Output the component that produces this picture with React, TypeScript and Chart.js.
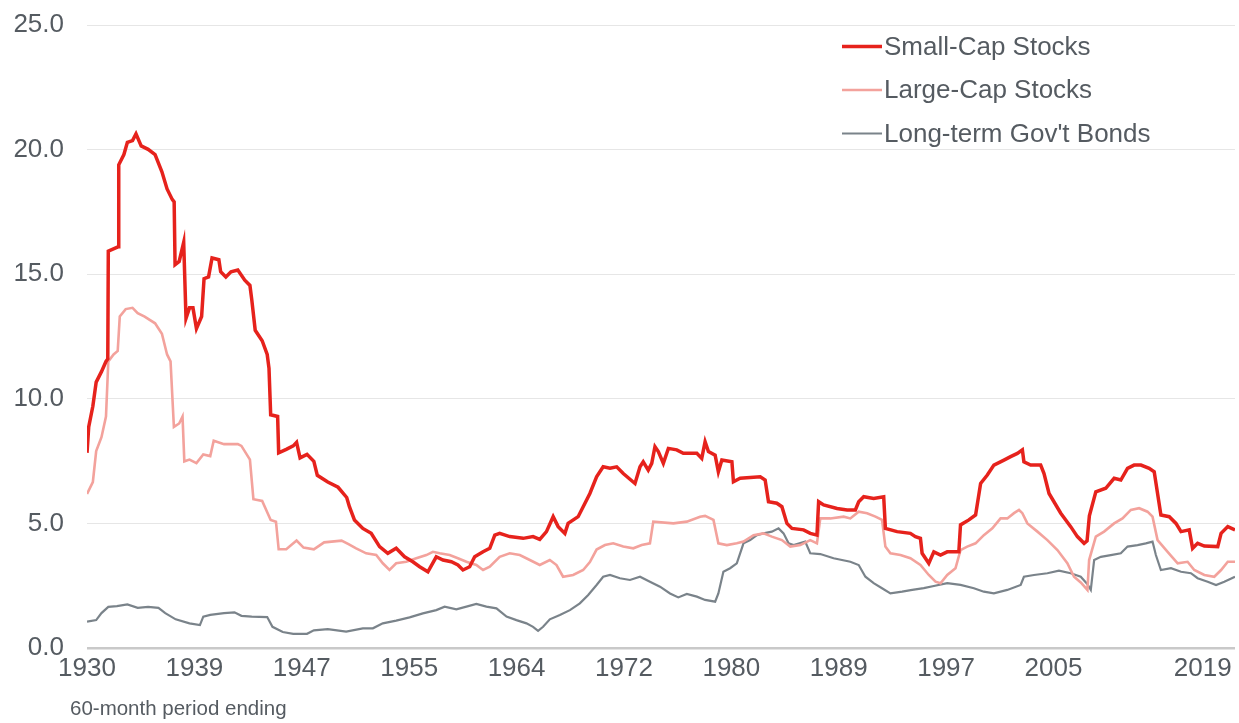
import React, { useEffect, useRef } from 'react';
import { Chart, registerables } from 'chart.js';

Chart.register(...registerables);

const seriesNames = ['Small-Cap Stocks', 'Large-Cap Stocks', "Long-term Gov't Bonds"];
const seriesColors = ['rgb(230,34,28)', 'rgb(243,162,156)', 'rgb(122,131,138)'];
const seriesWidths = [3.5, 2.6, 2.2];

// [period-ending year, ratio]
const smallCapPoints: [number, number][] = [
  [1930.92, 7.83], [1931.05, 8.87], [1931.37, 9.7], [1931.63, 10.67], [1932.04, 11.09], [1932.39, 11.5], [1932.53, 11.6], [1932.57, 15.93],
  [1933.19, 16.07], [1933.33, 16.1], [1933.38, 19.39], [1933.78, 19.8], [1934.05, 20.29], [1934.45, 20.36], [1934.72, 20.63], [1935.12, 20.15],
  [1935.66, 20.01], [1936.2, 19.8], [1936.73, 19.11], [1937.13, 18.42], [1937.53, 18.0], [1937.68, 17.9], [1937.75, 15.38], [1938.07, 15.51],
  [1938.42, 16.28], [1938.6, 13.23], [1938.87, 13.65], [1939.14, 13.65], [1939.41, 12.82], [1939.81, 13.3], [1940.0, 14.82], [1940.35, 14.89],
  [1940.62, 15.65], [1941.15, 15.58], [1941.29, 15.1], [1941.69, 14.89], [1942.09, 15.1], [1942.62, 15.17], [1943.16, 14.76], [1943.56, 14.55],
  [1943.7, 13.99], [1943.97, 12.75], [1944.51, 12.33], [1944.9, 11.78], [1945.04, 11.22], [1945.17, 9.36], [1945.71, 9.29], [1945.79, 7.83],
  [1946.38, 7.97], [1946.92, 8.11], [1947.18, 8.25], [1947.45, 7.63], [1947.99, 7.77], [1948.52, 7.49], [1948.79, 6.93], [1949.6, 6.66],
  [1950.4, 6.45], [1951.07, 6.04], [1951.28, 5.67], [1951.67, 5.14], [1952.32, 4.8], [1952.97, 4.6], [1953.62, 4.07], [1954.26, 3.8],
  [1954.91, 4.0], [1955.56, 3.66], [1956.2, 3.46], [1956.73, 3.26], [1957.37, 3.06], [1958.02, 3.66], [1958.54, 3.53], [1959.19, 3.46],
  [1959.7, 3.33], [1960.09, 3.13], [1960.61, 3.26], [1961.0, 3.66], [1961.65, 3.86], [1962.17, 4.0], [1962.56, 4.53], [1962.94, 4.6],
  [1963.72, 4.47], [1964.76, 4.4], [1965.53, 4.47], [1966.05, 4.36], [1966.57, 4.67], [1967.09, 5.27], [1967.48, 4.87], [1968.0, 4.6],
  [1968.25, 5.0], [1969.03, 5.27], [1969.42, 5.67], [1969.94, 6.2], [1970.46, 6.87], [1970.97, 7.27], [1971.5, 7.21], [1972.02, 7.27],
  [1972.53, 7.0], [1973.44, 6.6], [1973.83, 7.27], [1974.08, 7.47], [1974.47, 7.14], [1974.74, 7.41], [1974.99, 8.08], [1975.25, 7.88],
  [1975.64, 7.41], [1976.03, 8.01], [1976.68, 7.95], [1977.19, 7.81], [1978.24, 7.81], [1978.62, 7.61], [1978.88, 8.28], [1979.14, 7.88],
  [1979.66, 7.74], [1979.91, 7.07], [1980.18, 7.54], [1980.96, 7.47], [1981.08, 6.67], [1981.6, 6.81], [1983.16, 6.87], [1983.54, 6.74],
  [1983.8, 5.87], [1984.45, 5.81], [1984.84, 5.67], [1985.23, 5.0], [1985.62, 4.8], [1986.52, 4.74], [1987.04, 4.6], [1987.56, 4.53],
  [1987.69, 5.87], [1988.08, 5.74], [1989.12, 5.6], [1989.9, 5.54], [1990.54, 5.54], [1990.8, 5.87], [1991.19, 6.07], [1991.96, 6.0],
  [1992.74, 6.07], [1992.87, 4.8], [1993.78, 4.67], [1994.81, 4.6], [1995.2, 4.47], [1995.59, 4.4], [1995.72, 3.8], [1996.24, 3.4],
  [1996.63, 3.86], [1997.15, 3.73], [1997.67, 3.86], [1998.57, 3.86], [1998.7, 4.94], [1999.35, 5.14], [1999.87, 5.34], [2000.26, 6.6],
  [2000.78, 6.94], [2001.29, 7.34], [2002.07, 7.54], [2002.59, 7.68], [2003.11, 7.81], [2003.5, 7.95], [2003.62, 7.47], [2004.14, 7.34],
  [2004.92, 7.34], [2005.18, 7.0], [2005.57, 6.2], [2006.48, 5.41], [2007.25, 4.87], [2007.77, 4.47], [2008.29, 4.2], [2008.52, 4.3],
  [2008.7, 5.3], [2009.2, 6.27], [2009.97, 6.41], [2010.62, 6.81], [2011.14, 6.74], [2011.66, 7.21], [2012.17, 7.34], [2012.7, 7.34],
  [2013.34, 7.21], [2013.73, 7.07], [2014.25, 5.34], [2014.9, 5.27], [2015.42, 5.0], [2015.81, 4.67], [2016.45, 4.74], [2016.71, 4.0],
  [2017.1, 4.2], [2017.62, 4.09], [2018.66, 4.07], [2018.92, 4.6], [2019.44, 4.87], [2020.0, 4.74],
];

const largeCapPoints: [number, number][] = [
  [1930.92, 6.18], [1931.37, 6.66], [1931.63, 7.9], [1932.04, 8.46], [1932.39, 9.29], [1932.57, 11.5], [1932.98, 11.78], [1933.3, 11.92],
  [1933.46, 13.3], [1933.92, 13.6], [1934.45, 13.65], [1934.85, 13.44], [1935.39, 13.3], [1936.2, 13.03], [1936.73, 12.61], [1937.13, 11.78],
  [1937.4, 11.5], [1937.66, 8.87], [1938.07, 9.01], [1938.33, 9.29], [1938.47, 7.49], [1938.87, 7.56], [1939.41, 7.42], [1939.94, 7.77],
  [1940.48, 7.7], [1940.75, 8.32], [1941.55, 8.18], [1942.62, 8.18], [1942.9, 8.11], [1943.56, 7.56], [1943.83, 5.97], [1944.51, 5.9],
  [1945.17, 5.14], [1945.58, 5.07], [1945.79, 3.96], [1946.38, 3.96], [1947.18, 4.31], [1947.72, 4.03], [1948.52, 3.96], [1949.32, 4.24],
  [1950.67, 4.31], [1951.21, 4.17], [1951.8, 4.0], [1952.58, 3.8], [1953.36, 3.73], [1953.87, 3.4], [1954.39, 3.13], [1954.91, 3.4],
  [1955.69, 3.46], [1956.47, 3.6], [1957.25, 3.73], [1957.76, 3.86], [1958.28, 3.8], [1959.06, 3.73], [1959.7, 3.6], [1960.36, 3.46],
  [1961.13, 3.33], [1961.65, 3.13], [1962.17, 3.26], [1962.94, 3.66], [1963.72, 3.8], [1964.5, 3.73], [1965.28, 3.53], [1966.05, 3.33],
  [1966.83, 3.53], [1967.35, 3.33], [1967.86, 2.86], [1968.64, 2.93], [1969.42, 3.13], [1969.94, 3.45], [1970.46, 3.95], [1971.11, 4.13],
  [1971.75, 4.2], [1972.53, 4.07], [1973.31, 4.0], [1973.96, 4.13], [1974.6, 4.2], [1974.86, 5.07], [1976.42, 5.0], [1977.46, 5.07],
  [1978.49, 5.27], [1978.88, 5.3], [1979.53, 5.14], [1979.91, 4.2], [1980.57, 4.13], [1981.34, 4.2], [1981.86, 4.27], [1982.64, 4.53],
  [1983.41, 4.6], [1984.06, 4.47], [1984.84, 4.33], [1985.49, 4.07], [1986.27, 4.13], [1987.04, 4.33], [1987.56, 4.2], [1987.82, 5.2],
  [1988.6, 5.2], [1989.63, 5.27], [1990.15, 5.2], [1990.8, 5.47], [1991.45, 5.41], [1992.1, 5.27], [1992.61, 5.14], [1992.87, 4.07],
  [1993.26, 3.8], [1994.04, 3.73], [1994.81, 3.6], [1995.59, 3.33], [1996.24, 2.93], [1996.76, 2.66], [1997.15, 2.6], [1997.67, 2.93],
  [1998.31, 3.2], [1998.7, 3.93], [1999.22, 4.07], [1999.87, 4.2], [2000.51, 4.53], [2001.17, 4.8], [2001.81, 5.2], [2002.33, 5.2],
  [2002.85, 5.41], [2003.24, 5.54], [2003.5, 5.41], [2003.89, 5.0], [2004.67, 4.67], [2005.44, 4.33], [2006.22, 3.93], [2006.99, 3.4],
  [2007.51, 2.86], [2008.03, 2.63], [2008.55, 2.33], [2008.68, 3.53], [2009.2, 4.47], [2009.84, 4.67], [2010.62, 5.0], [2011.27, 5.2],
  [2011.92, 5.54], [2012.56, 5.61], [2013.21, 5.47], [2013.6, 5.27], [2013.99, 4.33], [2014.77, 3.86], [2015.55, 3.4], [2016.32, 3.46],
  [2016.84, 3.13], [2017.62, 2.93], [2018.39, 2.86], [2018.92, 3.13], [2019.44, 3.46], [2020.0, 3.46],
];

const bondPoints: [number, number][] = [
  [1930.92, 1.06], [1931.63, 1.12], [1932.04, 1.4], [1932.57, 1.65], [1933.24, 1.68], [1934.05, 1.75], [1934.85, 1.61], [1935.66, 1.65],
  [1936.46, 1.61], [1936.99, 1.4], [1937.8, 1.15], [1938.87, 0.99], [1939.68, 0.92], [1939.94, 1.26], [1940.48, 1.33], [1941.55, 1.4],
  [1942.36, 1.43], [1942.9, 1.29], [1943.7, 1.26], [1944.9, 1.24], [1945.31, 0.85], [1946.11, 0.64], [1946.92, 0.57], [1947.99, 0.57],
  [1948.52, 0.71], [1949.6, 0.76], [1951.03, 0.66], [1952.32, 0.79], [1953.1, 0.79], [1953.87, 0.99], [1954.91, 1.1], [1955.95, 1.23],
  [1956.98, 1.39], [1958.02, 1.52], [1958.67, 1.66], [1959.58, 1.55], [1960.36, 1.66], [1961.13, 1.77], [1961.91, 1.66], [1962.69, 1.59],
  [1963.47, 1.26], [1964.24, 1.12], [1965.02, 0.99], [1965.53, 0.85], [1965.92, 0.69], [1966.31, 0.85], [1966.83, 1.15], [1967.61, 1.32],
  [1968.39, 1.52], [1969.16, 1.79], [1969.81, 2.13], [1970.46, 2.53], [1970.97, 2.86], [1971.5, 2.93], [1972.27, 2.8], [1973.05, 2.73],
  [1973.83, 2.86], [1974.6, 2.66], [1975.38, 2.46], [1976.16, 2.19], [1976.8, 2.03], [1977.46, 2.17], [1978.24, 2.06], [1978.88, 1.93],
  [1979.66, 1.86], [1979.91, 2.19], [1980.3, 3.06], [1980.82, 3.2], [1981.34, 3.4], [1981.86, 4.2], [1982.38, 4.33], [1982.9, 4.53],
  [1983.41, 4.6], [1984.06, 4.67], [1984.58, 4.8], [1984.97, 4.6], [1985.36, 4.2], [1985.75, 4.13], [1986.65, 4.27], [1987.04, 3.8],
  [1987.82, 3.77], [1988.85, 3.6], [1990.15, 3.46], [1990.8, 3.33], [1991.32, 2.86], [1991.96, 2.6], [1992.61, 2.4], [1993.26, 2.19],
  [1994.17, 2.26], [1994.95, 2.33], [1995.85, 2.4], [1996.63, 2.49], [1997.67, 2.6], [1998.7, 2.53], [1999.74, 2.4], [2000.51, 2.26],
  [2001.29, 2.19], [2002.33, 2.33], [2003.37, 2.53], [2003.62, 2.86], [2004.4, 2.93], [2005.44, 3.0], [2006.34, 3.1], [2007.25, 3.0],
  [2008.03, 2.86], [2008.55, 2.56], [2008.81, 2.33], [2009.07, 3.53], [2009.59, 3.66], [2010.36, 3.73], [2011.14, 3.8], [2011.66, 4.07],
  [2012.44, 4.13], [2013.08, 4.2], [2013.6, 4.27], [2013.86, 3.73], [2014.25, 3.13], [2015.03, 3.2], [2015.81, 3.06], [2016.58, 3.0],
  [2017.1, 2.8], [2017.88, 2.66], [2018.53, 2.53], [2019.17, 2.66], [2020.0, 2.86],
];

const xTickPositions = [1930.917, 1939.25, 1947.583, 1955.917, 1964.25, 1972.583, 1980.917, 1989.25, 1997.583, 2005.917, 2017.5];
const xTickLabels = ['1930', '1939', '1947', '1955', '1964', '1972', '1980', '1989', '1997', '2005', '2019'];
const yTickValues = [0, 5, 10, 15, 20, 25];
const xAxisCaption = '60-month period ending';

const FONT = '"Liberation Sans", Arial, Helvetica, sans-serif';
const TEXT_COLOR = '#555b61';

const legendPlugin = {
  id: 'stackedLegend',
  afterDraw(chart: any) {
    const { ctx, chartArea } = chart;
    ctx.save();
    ctx.font = `26px ${FONT}`;
    ctx.textBaseline = 'middle';
    ctx.textAlign = 'left';
    chart.data.datasets.forEach((ds: any, i: number) => {
      const y = 46.5 + i * 43.5;
      const x0 = chartArea.right - 393;
      ctx.strokeStyle = ds.borderColor;
      ctx.lineWidth = ds.borderWidth;
      ctx.beginPath();
      ctx.moveTo(x0, y);
      ctx.lineTo(x0 + 40, y);
      ctx.stroke();
      ctx.fillStyle = TEXT_COLOR;
      ctx.fillText(ds.label, x0 + 42, y + 1);
    });
    ctx.restore();
  },
};

export default function App() {
  const canvasRef = useRef<HTMLCanvasElement | null>(null);

  useEffect(() => {
    if (!canvasRef.current) return;
    const pointSets = [smallCapPoints, largeCapPoints, bondPoints];
    const chart = new Chart(canvasRef.current, {
      type: 'line',
      data: {
        datasets: pointSets.map((pts, i) => ({
          label: seriesNames[i],
          data: pts.map(([x, y]) => ({ x, y })),
          borderColor: seriesColors[i],
          backgroundColor: seriesColors[i],
          borderWidth: seriesWidths[i],
          pointRadius: 0,
          tension: 0,
          fill: false,
        })),
      },
      options: {
        animation: false,
        responsive: false,
        devicePixelRatio: 1,
        layout: { padding: { left: 13, right: 4, top: 25, bottom: 35 } },
        plugins: {
          legend: { display: false },
          tooltip: { enabled: false },
        },
        scales: {
          x: {
            type: 'linear',
            min: 1930.917,
            max: 2020.0,
            grid: { display: false, drawTicks: false },
            border: { display: false },
            afterBuildTicks: (axis: any) => {
              axis.ticks = xTickPositions.map((v) => ({ value: v }));
            },
            afterFit: (scale: any) => {
              scale.height = 40;
            },
            ticks: {
              autoSkip: false,
              maxRotation: 0,
              minRotation: 0,
              padding: 5,
              color: TEXT_COLOR,
              font: { family: FONT, size: 26 },
              callback: (_v: any, index: number) => xTickLabels[index],
            },
          },
          y: {
            type: 'linear',
            min: 0,
            max: 25,
            afterBuildTicks: (axis: any) => {
              axis.ticks = yTickValues.map((v) => ({ value: v }));
            },
            afterFit: (scale: any) => {
              scale.width = 74;
              scale.paddingTop = 0;
              scale.paddingBottom = 0;
            },
            border: { display: false },
            grid: {
              drawTicks: false,
              color: (c: any) => (c.tick && c.tick.value === 0 ? '#c9c9c9' : '#e6e6e6'),
              lineWidth: (c: any) => (c.tick && c.tick.value === 0 ? 2.5 : 1),
            },
            ticks: {
              padding: 23,
              color: TEXT_COLOR,
              font: { family: FONT, size: 26 },
              callback: (v: any) => Number(v).toFixed(1),
            },
          },
        },
      },
      plugins: [legendPlugin],
    });
    return () => chart.destroy();
  }, []);

  return (
    <div style={{ position: 'fixed', left: 0, top: 0, width: 1239, height: 723, background: '#fff' }}>
      <canvas ref={canvasRef} width={1239} height={723} style={{ display: 'block' }} />
      <div
        style={{
          position: 'absolute',
          left: 70,
          top: 698,
          fontFamily: FONT,
          fontSize: 20.5,
          lineHeight: '20.5px',
          color: TEXT_COLOR,
          whiteSpace: 'nowrap',
        }}
      >
        {xAxisCaption}
      </div>
    </div>
  );
}
